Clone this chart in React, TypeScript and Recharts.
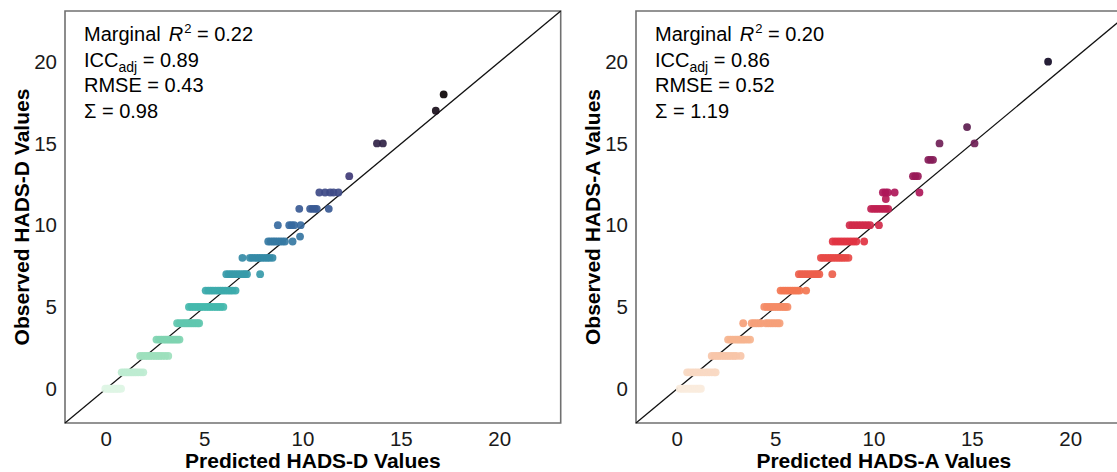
import React from 'react';
import { ScatterChart, Scatter, XAxis, YAxis, ReferenceLine, ReferenceArea } from 'recharts';

const FONT = '"Liberation Sans", Arial, Helvetica, sans-serif';
const CHART_W = 570;
const CHART_H = 472;
const MARGIN = { top: 11, right: 9.3, bottom: 0, left: 0 };
const Y_AXIS_W = 65;
const X_AXIS_H = 49;
const PLOT_TOP = 11;
const PLOT_H = 412;

const axisTicks = [0, 5, 10, 15, 20];
const axisMin = -2.1;
const axisMax = 23.1;

// HADS-D panel
const depObserved = [0, 1, 2, 3, 4, 5, 6, 7, 8, 9, 9.3, 10, 11, 12, 13, 15, 17, 18];
const depPredicted = [
  [-0.05, 0.05, 0.12, 0.2, 0.28, 0.35, 0.42, 0.5, 0.58, 0.66, 0.75],
  [0.78, 0.9, 1.0, 1.1, 1.2, 1.3, 1.4, 1.5, 1.62, 1.75, 1.88],
  [1.72, 1.85, 1.98, 2.1, 2.22, 2.35, 2.48, 2.6, 2.72, 2.85, 3.0, 3.15],
  [2.55, 2.68, 2.8, 2.92, 3.02, 3.12, 3.22, 3.32, 3.42, 3.52, 3.62, 3.72],
  [3.6, 3.72, 3.84, 3.95, 4.05, 4.15, 4.25, 4.35, 4.45, 4.55, 4.65, 4.72],
  [4.2, 4.32, 4.45, 4.58, 4.7, 4.82, 4.95, 5.08, 5.2, 5.32, 5.45, 5.58, 5.7, 5.82, 5.95],
  [5.05, 5.18, 5.3, 5.42, 5.55, 5.68, 5.8, 5.92, 6.05, 6.18, 6.3, 6.42, 6.57],
  [6.1, 6.22, 6.34, 6.46, 6.58, 6.7, 6.82, 6.95, 7.05, 7.15, 7.82],
  [6.92, 7.3, 7.42, 7.55, 7.68, 7.8, 7.92, 8.05, 8.18, 8.3, 8.45],
  [8.23, 8.35, 8.47, 8.58, 8.7, 8.82, 8.95, 9.08, 9.47],
  [9.85],
  [8.72, 9.3, 9.42, 9.55, 9.88],
  [9.81, 10.36, 10.48, 10.6, 10.7, 11.31],
  [10.83, 11.12, 11.38, 11.55, 11.8],
  [12.35],
  [13.76, 14.06],
  [16.75],
  [17.15],
];
const depStats = ['0.22', '0.89', '0.43', '0.98'];

// HADS-A panel
const anxObserved = [0, 1, 2, 3, 4, 5, 6, 7, 8, 9, 10, 11, 11.6, 12, 13, 14, 15, 16, 20];
const anxPredicted = [
  [0.12, 0.22, 0.32, 0.42, 0.52, 0.62, 0.72, 0.82, 0.92, 1.02, 1.12, 1.2],
  [0.5, 0.62, 0.75, 0.88, 1.0, 1.12, 1.25, 1.38, 1.5, 1.62, 1.75, 1.88, 1.95],
  [1.75, 1.88, 2.0, 2.12, 2.25, 2.38, 2.5, 2.62, 2.75, 2.88, 3.0, 3.22],
  [2.58, 2.7, 2.82, 2.94, 3.05, 3.15, 3.25, 3.35, 3.45, 3.58, 3.7],
  [3.35, 3.78, 3.9, 4.02, 4.14, 4.26, 4.5, 4.62, 4.74, 4.86, 4.98, 5.1, 5.2],
  [4.42, 4.55, 4.68, 4.8, 4.92, 5.04, 5.16, 5.28, 5.4, 5.5, 5.6],
  [5.25, 5.38, 5.5, 5.62, 5.74, 5.86, 5.98, 6.1, 6.22, 6.55],
  [6.18, 6.3, 6.42, 6.54, 6.66, 6.78, 6.9, 7.02, 7.12, 7.22, 7.88],
  [7.3, 7.42, 7.55, 7.68, 7.8, 7.92, 8.05, 8.18, 8.3, 8.42, 8.55, 8.7],
  [7.9, 8.05, 8.2, 8.35, 8.5, 8.65, 8.8, 8.95, 9.1, 9.5],
  [8.76, 8.9, 9.05, 9.2, 9.35, 9.5, 9.65, 9.8, 10.25],
  [9.85, 9.98, 10.1, 10.22, 10.35, 10.48, 10.6, 10.72],
  [10.6],
  [10.45, 10.58, 10.7, 11.05, 12.31],
  [11.98, 12.1, 12.23],
  [12.76, 12.88, 13.0],
  [13.33, 15.11],
  [14.73],
  [18.85],
];
const anxStats = ['0.20', '0.86', '0.52', '1.19'];

const MAKO = ['#0B0405', '#2E1E3B', '#413D7B', '#37659E', '#348FA7', '#40B7AD', '#8BDAB2', '#DEF5E5'];
const ROCKET = ['#03051A', '#35193E', '#701F57', '#AE1759', '#E13342', '#F37651', '#F6B48F', '#FAEBDD'];

function hexToRgb(h: string): number[] {
  const v = parseInt(h.slice(1), 16);
  return [(v >> 16) & 255, (v >> 8) & 255, v & 255];
}

function sample(stops: string[], t: number): string {
  const tt = Math.max(0, Math.min(1, t));
  const pos = tt * (stops.length - 1);
  const i = Math.min(stops.length - 2, Math.floor(pos));
  const f = pos - i;
  const a = hexToRgb(stops[i]);
  const b = hexToRgb(stops[i + 1]);
  const c = a.map((av, k) => Math.round(av + (b[k] - av) * f));
  return `rgb(${c[0]},${c[1]},${c[2]})`;
}

type PanelProps = {
  observed: number[];
  predicted: number[][];
  stops: string[];
  hueMax: number;
  stats: string[];
  xTitle: string;
  yTitle: string;
};

function Panel({ observed, predicted, stops, hueMax, stats, xTitle, yTitle }: PanelProps) {
  const data = observed.flatMap((obs, i) => predicted[i].map((p) => ({ x: p, y: obs })));
  const tickStyle = { fontSize: 20.5, fill: '#1a1a1a', fontFamily: FONT };
  const plotLeft = MARGIN.left + Y_AXIS_W;
  const plotW = CHART_W - plotLeft - MARGIN.right;

  const xTitleLabel = () => (
    <text
      x={plotLeft + plotW / 2}
      y={468}
      textAnchor="middle"
      fontFamily={FONT}
      fontSize={21}
      fontWeight="bold"
      fill="#000"
    >
      {xTitle}
    </text>
  );

  const yTitleLabel = () => {
    const cx = 29;
    const cy = PLOT_TOP + PLOT_H / 2;
    return (
      <text
        x={cx}
        y={cy}
        transform={`rotate(-90, ${cx}, ${cy})`}
        textAnchor="middle"
        fontFamily={FONT}
        fontSize={21}
        fontWeight="bold"
        fill="#000"
      >
        {yTitle}
      </text>
    );
  };

  const annotation = () => {
    const x0 = plotLeft + 19;
    const base = [41, 66.5, 92, 118];
    return (
      <g fontFamily={FONT} fontSize={20} fill="#000">
        <text x={x0} y={base[0]}>
          <tspan>Marginal</tspan>
          <tspan dx={8} fontStyle="italic">R</tspan>
          <tspan fontSize={13} dy={-8} dx={1}>2</tspan>
          <tspan dy={8}>{` = ${stats[0]}`}</tspan>
        </text>
        <text x={x0} y={base[1]}>
          <tspan>ICC</tspan>
          <tspan fontSize={14} dy={5}>adj</tspan>
          <tspan dy={-5}>{` = ${stats[1]}`}</tspan>
        </text>
        <text x={x0} y={base[2]}>{`RMSE = ${stats[2]}`}</text>
        <text x={x0} y={base[3]}>{`\u03A3 = ${stats[3]}`}</text>
      </g>
    );
  };

  return (
    <ScatterChart width={CHART_W} height={CHART_H} margin={MARGIN}>
      <XAxis
        type="number"
        dataKey="x"
        domain={[axisMin, axisMax]}
        ticks={axisTicks}
        allowDataOverflow
        tickLine={false}
        axisLine={false}
        height={X_AXIS_H}
        tick={tickStyle}
        label={xTitleLabel}
      />
      <YAxis
        type="number"
        dataKey="y"
        domain={[axisMin, axisMax]}
        ticks={axisTicks}
        allowDataOverflow
        tickLine={false}
        axisLine={false}
        width={Y_AXIS_W}
        tick={tickStyle}
        label={yTitleLabel}
      />
      <ReferenceArea
        x1={axisMin}
        x2={axisMax}
        y1={axisMin}
        y2={axisMax}
        fill="#ffffff"
        fillOpacity={0}
        stroke="#707070"
        strokeWidth={1.6}
        label={annotation}
      />
      <Scatter
        data={data}
        isAnimationActive={false}
        shape={(props: any) => (
          <circle
            cx={props.cx}
            cy={props.cy}
            r={3.9}
            fill={sample(stops, 1 - props.payload.y / hueMax)}
            fillOpacity={0.92}
          />
        )}
      />
      <ReferenceLine
        segment={[
          { x: axisMin, y: axisMin },
          { x: axisMax, y: axisMax },
        ]}
        stroke="#111"
        strokeWidth={1.3}
      />
    </ScatterChart>
  );
}

export default function App() {
  return (
    <div
      style={{
        position: 'fixed',
        left: 0,
        top: 0,
        width: 1117,
        height: 472,
        overflow: 'hidden',
        background: '#ffffff',
      }}
    >
      <div style={{ position: 'absolute', left: 0, top: 0 }}>
        <Panel
          observed={depObserved}
          predicted={depPredicted}
          stops={MAKO}
          hueMax={18}
          stats={depStats}
          xTitle="Predicted HADS-D Values"
          yTitle="Observed HADS-D Values"
        />
      </div>
      <div style={{ position: 'absolute', left: 570.5, top: 0 }}>
        <Panel
          observed={anxObserved}
          predicted={anxPredicted}
          stops={ROCKET}
          hueMax={21}
          stats={anxStats}
          xTitle="Predicted HADS-A Values"
          yTitle="Observed HADS-A Values"
        />
      </div>
    </div>
  );
}
